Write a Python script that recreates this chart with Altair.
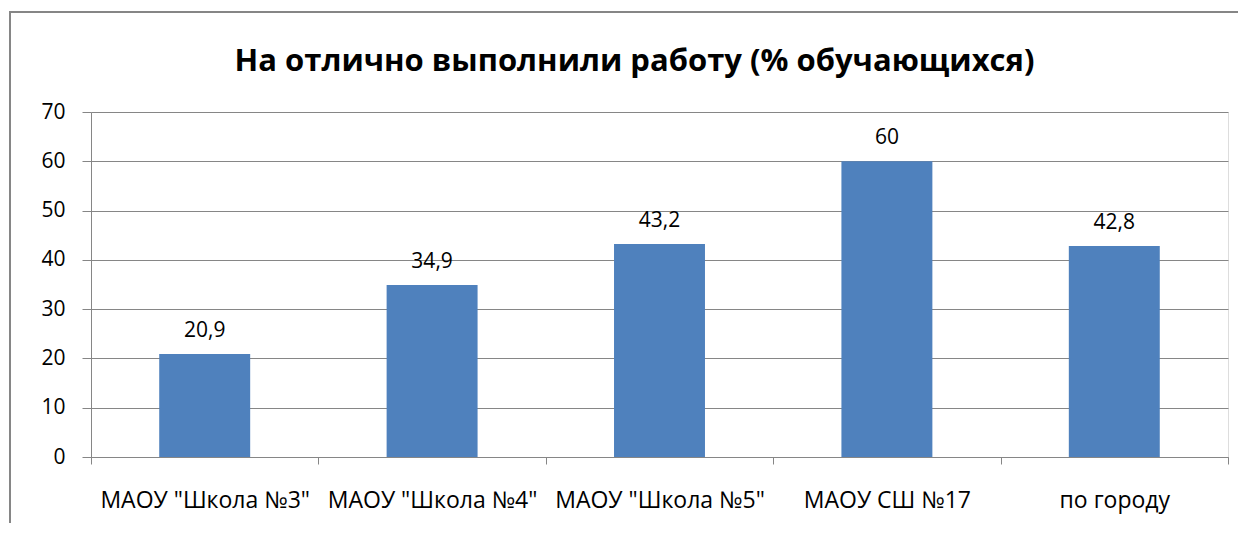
import altair as alt
import pandas as pd

categories = ['МАОУ "Школа №3"', 'МАОУ "Школа №4"', 'МАОУ "Школа №5"', 'МАОУ СШ №17', 'по городу']
values = [20.9, 34.9, 43.2, 60, 42.8]
title_text = "На отлично выполнили работу (% обучающихся)"
y_ticks = [0, 10, 20, 30, 40, 50, 60, 70]

df = pd.DataFrame({"cat": categories, "val": values})

W, H = 1137, 345
GRAY = "#868686"
FONT = "Open Sans"
BAR = "#4F81BD"

x_enc = alt.X(
    "cat:N", sort=categories, title=None,
    scale=alt.Scale(paddingInner=0, paddingOuter=0),
    axis=alt.Axis(labelAngle=0, tickBand="extent", tickSize=7, labelPadding=25,
                  labelFont=FONT, labelFontSize=23, labelColor="black",
                  domainColor=GRAY, tickColor=GRAY, grid=False, labelLimit=400),
)
y_enc = alt.Y(
    "val:Q", title=None,
    scale=alt.Scale(domain=[0, 70], nice=False),
    axis=alt.Axis(values=y_ticks, tickSize=9, labelPadding=17, labelFont=FONT,
                  labelFontSize=21, labelColor="black", domainColor=GRAY,
                  tickColor=GRAY, gridColor=GRAY, grid=True),
)

one = pd.DataFrame({"t": [title_text]})

frame = alt.Chart(one).mark_rect(
    fill="white", fillOpacity=0, stroke=GRAY, strokeWidth=2, clip=False
).encode(
    x=alt.value(-81), x2=alt.value(W + 300), y=alt.value(-100), y2=alt.value(H + 300)
)

title = alt.Chart(one).mark_text(
    font=FONT, fontSize=31, fontWeight="bold", color="black",
    align="center", baseline="alphabetic", clip=False
).encode(x=alt.value(W / 2 - 25), y=alt.value(-41), text="t:N")

bars = alt.Chart(df).mark_bar(color=BAR, width=alt.RelativeBandSize(0.4)).encode(x=x_enc, y=y_enc)

labels = alt.Chart(df).transform_calculate(
    lab="replace(toString(datum.val), '.', ',')"
).mark_text(font=FONT, fontSize=21, color="black", baseline="alphabetic", dy=-17).encode(
    x=alt.X("cat:N", sort=categories),
    y=alt.Y("val:Q"),
    text="lab:N",
)

chart = alt.layer(frame, title, bars, labels).properties(
    width=W, height=H,
    autosize=alt.AutoSizeParams(type="none"),
    padding={"left": 83, "top": 104, "right": 10, "bottom": 66},
).configure_view(stroke=None).configure(background="white")

chart.save("out.html", embed_options={"renderer": "svg", "actions": False})
